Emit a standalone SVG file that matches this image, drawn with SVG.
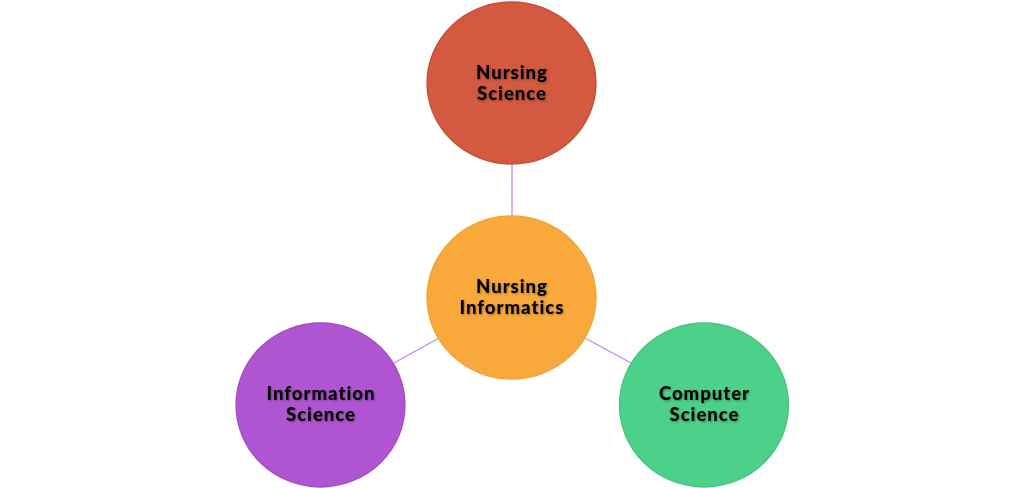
<svg xmlns="http://www.w3.org/2000/svg" width="1024" height="488" viewBox="0 0 1024 488">
<defs>
<filter id="shadow" x="-10%" y="-10%" width="120%" height="130%">
<feGaussianBlur in="SourceAlpha" stdDeviation="1"/>
<feOffset dx="0.5" dy="1" result="b"/>
<feFlood flood-color="#000" flood-opacity="0.35"/>
<feComposite in2="b" operator="in"/>
<feMerge><feMergeNode/><feMergeNode in="SourceGraphic"/></feMerge>
</filter>
</defs>
<style>
.lbl{font-family:"Lato","Noto Sans","DejaVu Sans",sans-serif;font-weight:900;font-size:18.5px;letter-spacing:1px;fill:#000;text-anchor:middle;filter:url(#shadow)}
.link{stroke:#C389E0;stroke-width:1.3;fill:none}
.node ellipse{stroke-width:1.3}
</style>
<rect width="1024" height="488" fill="#fff"/>
<g id="connectors">
<line class="link" x1="512" y1="164" x2="512" y2="216"/>
<line class="link" x1="394" y1="363" x2="439" y2="338"/>
<line class="link" x1="585" y1="338" x2="631" y2="363"/>
</g>
<g id="nursing-science" class="node">
<ellipse cx="511.5" cy="83" rx="84.5" ry="81" fill="#D35940" stroke="#C24E37"/>
<text class="lbl" x="512" y="78.5">Nursing</text>
<text class="lbl" x="512" y="99.5">Science</text>
</g>
<g id="nursing-informatics" class="node">
<ellipse cx="511.5" cy="297.5" rx="84.5" ry="81.5" fill="#F9A93B" stroke="#F0A237"/>
<text class="lbl" x="512" y="292.5">Nursing</text>
<text class="lbl" x="512" y="314">Informatics</text>
</g>
<g id="information-science" class="node">
<ellipse cx="320.5" cy="405" rx="84.5" ry="82" fill="#AF55D1" stroke="#A24CC4"/>
<text class="lbl" x="321" y="400">Information</text>
<text class="lbl" x="321" y="421">Science</text>
</g>
<g id="computer-science" class="node">
<ellipse cx="704" cy="405" rx="84.5" ry="82" fill="#4CD08A" stroke="#45C47F"/>
<text class="lbl" x="704.5" y="400">Computer</text>
<text class="lbl" x="704.5" y="421">Science</text>
</g>
</svg>
